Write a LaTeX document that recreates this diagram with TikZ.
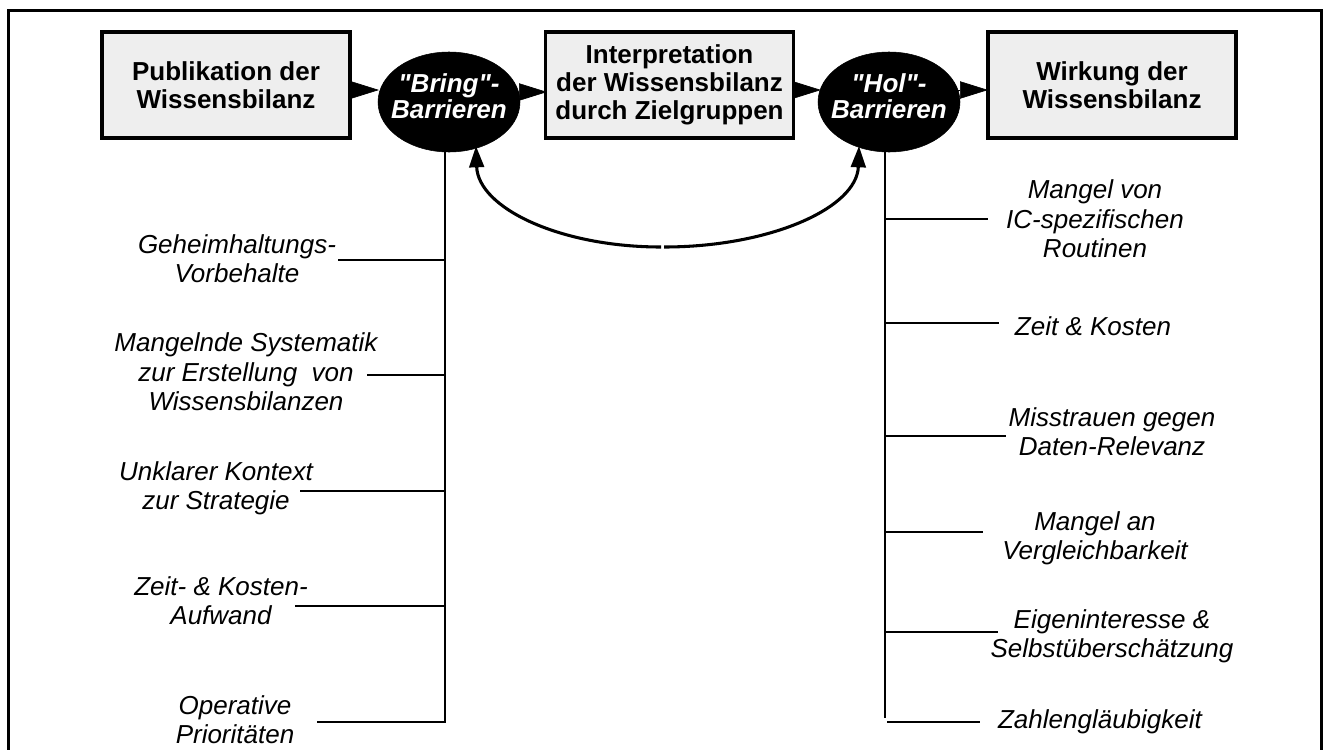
\documentclass[tikz,border=0pt]{standalone}
\usepackage{fontspec}
\newfontfamily\arial{Liberation Sans}
\usetikzlibrary{arrows.meta,shapes.geometric}
\definecolor{boxgray}{RGB}{238,238,238}
\begin{document}
\begin{tikzpicture}[x=0.75pt,y=-0.75pt,
  mainbox/.style={draw=black,line width=2.6pt,fill=boxgray,minimum width=186pt,minimum height=79.5pt,inner sep=0pt,align=center,font=\arial\bfseries\fontsize{19.5}{21}\selectfont},
  barrier/.style={ellipse,fill=black,draw=black,minimum width=106.5pt,minimum height=75pt,inner sep=0pt},
  barriertext/.style={text=white,align=center,font=\arial\bfseries\itshape\fontsize{19.5}{19.5}\selectfont,inner sep=0pt},
  cause/.style={align=center,font=\arial\itshape\fontsize{19.5}{22}\selectfont,inner sep=0pt},
  flow/.style={line width=0.5pt,-{Triangle[length=21pt,width=13pt]}},
  branch/.style={line width=1.5pt},
  loop/.style={line width=2.3pt,-{Triangle[length=16pt,width=11pt]}},
  frame/.style={line width=2.25pt}]
\useasboundingbox (0,0) rectangle (1323,749);
% outer frame (bottom edge lies outside the picture)
\draw[frame] (8.5,770) -- (8.5,10.5) -- (1321,10.5) -- (1321,770);

% coordinates
\coordinate (btop) at (445,140);
\coordinate (bbot) at (445,722);
\coordinate (htop) at (885,140);
\coordinate (hbot) at (885,718);
\coordinate (lb1) at (445,260); \coordinate (ls1) at (338,260);
\coordinate (lb2) at (445,375); \coordinate (ls2) at (367,375);
\coordinate (lb3) at (445,491); \coordinate (ls3) at (300,491);
\coordinate (lb4) at (445,606); \coordinate (ls4) at (295,606);
\coordinate (ls5) at (317,722);
\coordinate (rb1) at (885,219); \coordinate (re1) at (988,219);
\coordinate (rb2) at (885,323); \coordinate (re2) at (999,323);
\coordinate (rb3) at (885,436); \coordinate (re3) at (1006,436);
\coordinate (rb4) at (885,532); \coordinate (re4) at (983,532);
\coordinate (rb5) at (885,632); \coordinate (re5) at (998,632);
\coordinate (rb6) at (887,722); \coordinate (re6) at (980,722);
\coordinate (lowL) at (661,247);
\coordinate (lowR) at (664,247);
\coordinate (tipL) at (476,146);
\coordinate (tipR) at (859,146);
\coordinate (a1s) at (349,90); \coordinate (a1e) at (379,90);
\coordinate (a2s) at (518,92); \coordinate (a2e) at (547,92);
\coordinate (a3s) at (792,90); \coordinate (a3e) at (821,90);
\coordinate (a4s) at (956,90); \coordinate (a4e) at (988,90);

% trunks and branches
\draw[branch] (btop) -- (bbot) -- (ls5);
\draw[branch] (lb1) -- (ls1);
\draw[branch] (lb2) -- (ls2);
\draw[branch] (lb3) -- (ls3);
\draw[branch] (lb4) -- (ls4);
\draw[branch] (htop) -- (hbot);
\draw[branch] (rb1) -- (re1);
\draw[branch] (rb2) -- (re2);
\draw[branch] (rb3) -- (re3);
\draw[branch] (rb4) -- (re4);
\draw[branch] (rb5) -- (re5);
\draw[branch] (rb6) -- (re6);

% feedback loop
\draw[loop] (lowL) .. controls (560,247) and (478,208) .. (tipL);
\draw[loop] (lowR) .. controls (770,247) and (857,208) .. (tipR);

% flow arrows
\draw[flow] (a1s) -- (a1e);
\draw[flow] (a2s) -- (a2e);
\draw[flow] (a3s) -- (a3e);
\draw[flow] (a4s) -- (a4e);

% main boxes
\node[mainbox] (pub) at (226,85) {Publikation der\\Wissensbilanz};
\node[mainbox] (interp) at (669.5,85) {Interpretation\\der Wissensbilanz\\durch Zielgruppen};
\node[mainbox] (wirk) at (1112,85) {Wirkung der\\Wissensbilanz};

% barriers
\node[barrier] (bring) at (449,102) {};
\node[barriertext] (bringT) at (449,96) {"Bring"-\\Barrieren};
\node[barrier] (hol) at (889,102) {};
\node[barriertext] (holT) at (889,96) {"Hol"-\\Barrieren};

% left causes
\node[cause] (c1) at (237,259) {Geheimhaltungs-\\Vorbehalte};
\node[cause] (c2) at (246,372) {Mangelnde Systematik\\zur Erstellung\ \ von\\Wissensbilanzen};
\node[cause] (c3) at (216,488) {Unklarer Kontext\\zur Strategie};
\node[cause] (c4) at (221,601) {Zeit- \& Kosten-\\Aufwand};
\node[cause] (c5) at (235,720) {Operative\\Prioritäten};

% right causes
\node[cause] (r1) at (1095,219) {Mangel von\\IC-spezifischen\\Routinen};
\node[cause] (r2) at (1093,326) {Zeit \& Kosten};
\node[cause] (r3) at (1112,432) {Misstrauen gegen\\Daten-Relevanz};
\node[cause] (r4) at (1095,538) {Mangel an\\Vergleichbarkeit};
\node[cause] (r5) at (1112,636) {Eigeninteresse \&\\Selbstüberschätzung};
\node[cause] (r6) at (1100,722) {Zahlengläubigkeit};
\end{tikzpicture}
\end{document}
